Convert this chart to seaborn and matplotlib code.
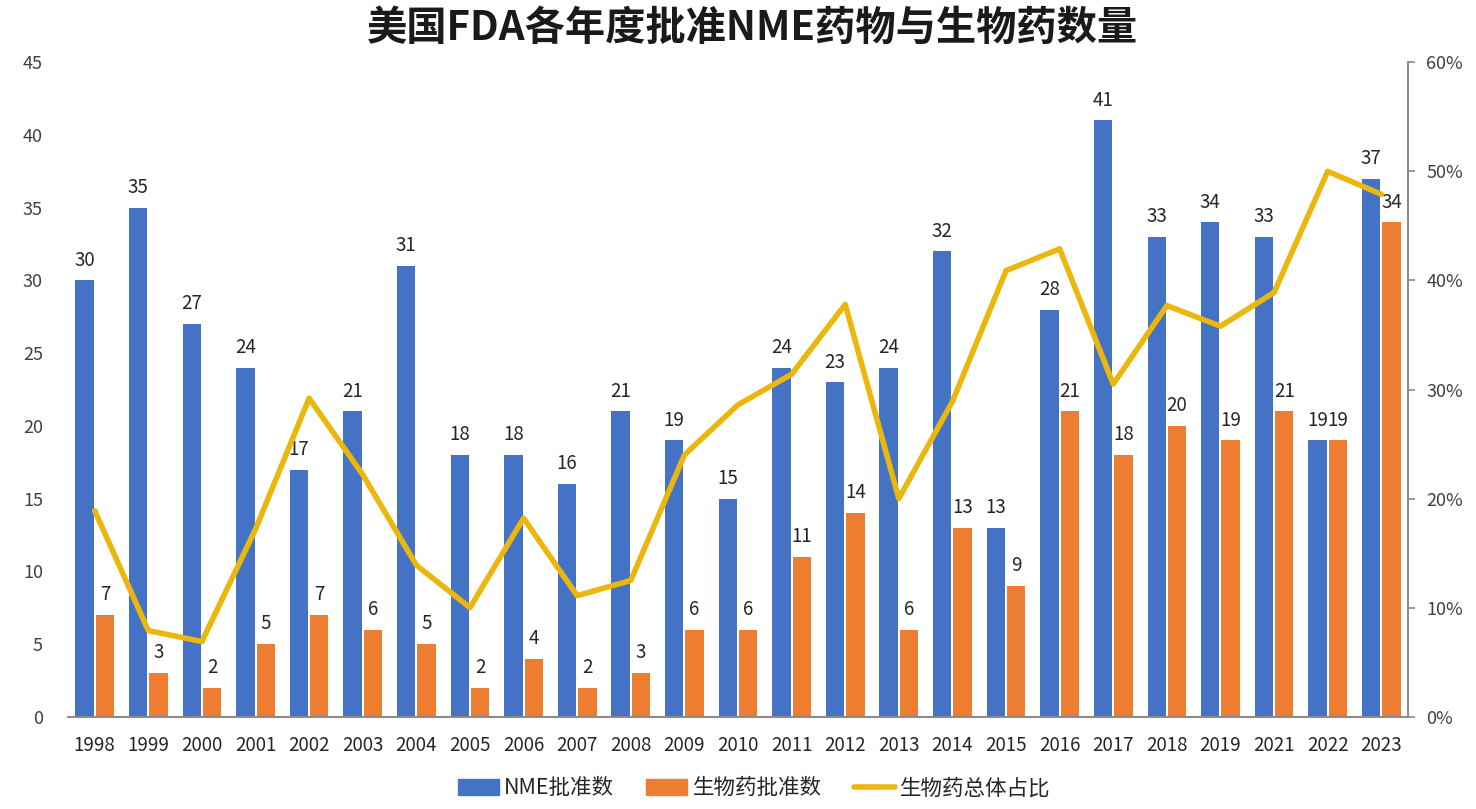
import matplotlib.pyplot as plt
import matplotlib.ticker as mticker
from matplotlib.lines import Line2D
from matplotlib.patches import Patch
import numpy as np
import pandas as pd
import seaborn as sns

sns.set_theme(style="white")
plt.rcParams['font.family'] = ['Noto Sans CJK SC', 'DejaVu Sans']

# dados
anos = ["1998", "1999", "2000", "2001", "2002", "2003", "2004", "2005", "2006",
        "2007", "2008", "2009", "2010", "2011", "2012", "2013", "2014", "2015",
        "2016", "2017", "2018", "2019", "2021", "2022", "2023"]
nme = [30, 35, 27, 24, 17, 21, 31, 18, 18, 16, 21, 19, 15, 24, 23, 24, 32, 13,
       28, 41, 33, 34, 33, 19, 37]
bio = [7, 3, 2, 5, 7, 6, 5, 2, 4, 2, 3, 6, 6, 11, 14, 6, 13, 9,
       21, 18, 20, 19, 21, 19, 34]
pct = [18.9, 7.9, 6.9, 17.2, 29.2, 22.2, 13.9, 10.0, 18.2, 11.1, 12.5, 24.0,
       28.6, 31.4, 37.8, 20.0, 28.9, 40.9, 42.9, 30.5, 37.7, 35.8, 38.9, 50.0, 47.9]

s_nme = "NME批准数"
s_bio = "生物药批准数"
s_pct = "生物药总体占比"

df = pd.DataFrame({"ano": anos * 2,
                   "valor": nme + bio,
                   "serie": [s_nme] * len(anos) + [s_bio] * len(anos)})
df_pct = pd.DataFrame({"pos": np.arange(len(anos)), "pct": np.array(pct) / 100})

azul = "#4472C4"
laranja = "#ED7D31"
ouro = "#EBB70C"
cinza = "#404040"

fig = plt.figure(figsize=(14.76, 8.09), dpi=100)
ax = fig.add_axes([0.046, 0.114, 0.908, 0.809])

sns.barplot(data=df, x="ano", y="valor", hue="serie", order=anos,
            hue_order=[s_nme, s_bio], palette=[azul, laranja], saturation=1,
            width=0.76, gap=0.1, linewidth=0, legend=False, ax=ax)

for cont in ax.containers:
    ax.bar_label(cont, padding=7, fontsize=13.5, color="#262626")

ax.set_ylim(0, 45)
ax.set_yticks(range(0, 46, 5))
ax.set_xlim(-0.5, len(anos) - 0.5)
ax.set_xlabel("")
ax.set_ylabel("")
ax.tick_params(axis="y", labelsize=13, labelcolor=cinza, length=0, pad=18)
ax.tick_params(axis="x", labelsize=13.5, labelcolor="#262626", length=0, pad=13)
for lado in ["left", "right", "top"]:
    ax.spines[lado].set_visible(False)
ax.spines["bottom"].set_color("#8c8c8c")
ax.spines["bottom"].set_linewidth(1.5)

ax2 = ax.twinx()
sns.lineplot(data=df_pct, x="pos", y="pct", color=ouro, linewidth=4, ax=ax2)
ax2.set_ylim(0, 0.6)
ax2.set_yticks(np.arange(0, 0.61, 0.1))
ax2.yaxis.set_major_formatter(mticker.PercentFormatter(1.0, decimals=0))
ax2.set_ylabel("")
ax2.set_xlabel("")
ax2.tick_params(axis="y", labelsize=13, labelcolor=cinza, length=5,
                color="#8c8c8c", width=1.2, pad=8)
for lado in ["left", "top", "bottom"]:
    ax2.spines[lado].set_visible(False)
ax2.spines["right"].set_color("#8c8c8c")
ax2.spines["right"].set_linewidth(1.5)
ax2.set_xlim(-0.5, len(anos) - 0.5)

fig.suptitle("美国FDA各年度批准NME药物与生物药数量", fontsize=29,
             fontweight="bold", color="#1a1a1a", x=0.51, y=0.99)

handles = [Patch(color=azul), Patch(color=laranja),
           Line2D([0], [0], color=ouro, linewidth=4)]
fig.legend(handles, [s_nme, s_bio, s_pct], loc="lower center", ncol=3,
           frameon=False, fontsize=15.5, bbox_to_anchor=(0.511, -0.012),
           handlelength=1.9, handleheight=0.75, columnspacing=1.5,
           handletextpad=0.25)

fig.savefig("out.png", dpi=100)
